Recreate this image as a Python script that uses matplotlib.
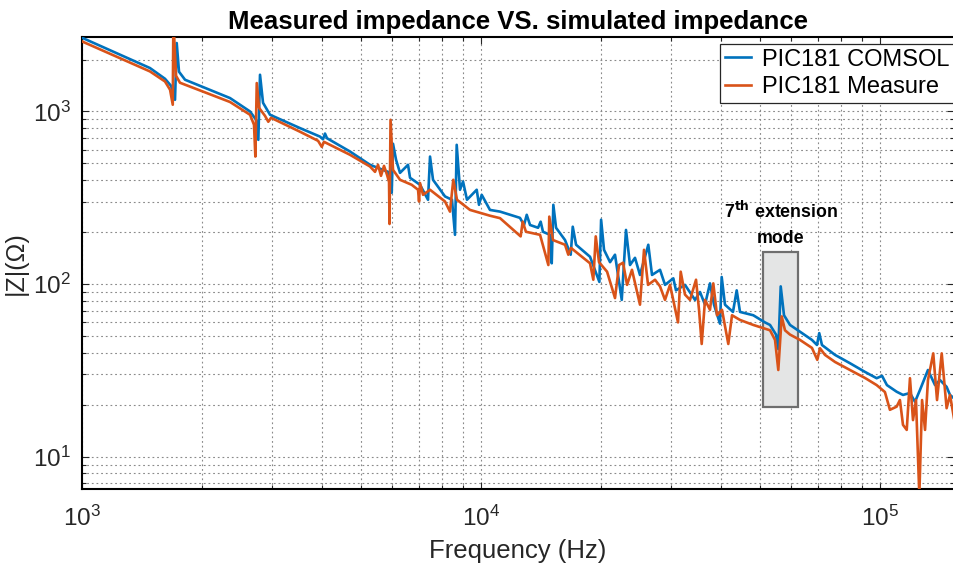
import matplotlib
matplotlib.use("Agg")
import matplotlib.pyplot as plt
from matplotlib.patches import Rectangle
from matplotlib.ticker import LogLocator, NullFormatter

plt.rcParams["font.family"] = ["Liberation Sans", "DejaVu Sans"]

# values (Hz, Ohm)
comsol_freq = [
    1000, 1480, 1614, 1671, 1710, 1727, 1750, 1812, 2349, 2637,
    2730, 2766, 2793, 2842, 2959, 3519, 3950, 4018, 4064, 4111,
    4696, 5270, 5847, 5973, 6018, 6124, 6266, 6562, 6639, 7033,
    7365, 7451, 7581, 8124, 8458, 8606, 8691, 8859, 9014, 9223,
    9755, 9885, 10040, 10530, 11160, 12520, 12820, 13020, 13270, 13900,
    14110, 14300, 14890, 15040, 15180, 15420, 16240, 16780, 16980, 17310,
    18760, 19800, 20000, 20340, 21060, 21670, 22530, 23090, 23630, 24320,
    25030, 26260, 26830, 28100, 28920, 30340, 30810, 32450, 34390, 35390,
    36430, 37490, 38370, 39720, 40110, 40880, 42810, 43740, 44580, 48130,
    51490, 53020, 54880, 55610, 56390, 57470, 59500, 63020, 67530, 69510,
    70440, 71540, 77140, 84110, 91700, 98100, 101200, 104100, 110100, 114200,
    118900, 122400, 126000, 131900, 137400, 141400, 146900, 149800, 153300,
]
comsol_z = [
    2674, 1785, 1547, 1409, 1169, 2492, 1699, 1527, 1196, 1000,
    895, 685, 1632, 1123, 957, 801, 715, 690, 745, 700,
    586, 491, 447, 338, 650, 525, 441, 491, 413, 376,
    308, 548, 402, 322, 308, 193, 641, 352, 393, 308,
    352, 288, 329, 269, 263, 242, 220, 252, 220, 212,
    230, 201, 193, 132, 288, 212, 180, 148, 215, 169,
    144, 103, 236, 158, 134, 148, 81, 206, 129, 142,
    113, 169, 113, 121, 99, 108, 92, 99, 81, 90,
    76, 101, 76, 59, 110, 76, 69, 92, 69, 66,
    60, 58, 51, 42, 97, 66, 58, 53, 47.5, 44.4,
    52, 44.4, 38.9, 34.8, 31, 28.5, 29.4, 26, 23.8, 22.8,
    23.4, 20.8, 24.4, 31.8, 26, 27.8, 25.4, 22.8, 21.8,
]

measure_freq = [
    1000, 1480, 1614, 1662, 1688, 1694, 1720, 1760, 2349, 2637,
    2698, 2719, 2741, 2777, 2874, 2930, 2977, 3519, 3905, 3989,
    4041, 4696, 5270, 5424, 5519, 5615, 5713, 5813, 5881, 5898,
    5932, 6018, 6266, 6704, 6953, 6993, 7033, 7156, 7451, 8124,
    8360, 8522, 8706, 9385, 10530, 11160, 12570, 12720, 12960, 14060,
    14750, 14830, 15150, 16240, 16550, 16810, 18760, 19120, 19390, 19760,
    20700, 21670, 22180, 22700, 23230, 23900, 25030, 25620, 26220, 27300,
    28100, 28920, 29770, 31170, 31660, 32450, 33410, 34590, 35190, 35740,
    36430, 37490, 38210, 39040, 40180, 41670, 42570, 44580, 48130, 53020,
    54570, 55610, 56710, 57800, 59500, 63020, 67530, 69640, 70720, 72800,
    77140, 84110, 91700, 98100, 102900, 105900, 110100, 112200, 114200, 116700,
    118900, 121000, 123100, 125500, 127500, 129700, 131900, 136000, 139000, 142800,
    146900, 149800, 153300,
]
measure_z = [
    2546, 1706, 1492, 1336, 1094, 3400, 1611, 1467, 1135, 957,
    837, 548, 1461, 1051, 944, 872, 919, 763, 676, 624,
    667, 561, 480, 447, 491, 424, 484, 430, 391, 223,
    895, 459, 402, 376, 352, 301, 385, 329, 352, 301,
    263, 402, 308, 269, 249, 241, 189, 230, 201, 193,
    129, 246, 180, 169, 148, 162, 132, 106, 189, 134,
    118, 83, 129, 133, 99, 121, 76, 158, 99, 106,
    97, 81, 99, 60, 118, 87, 81, 106, 71, 45,
    81, 71, 101, 66, 71, 45, 66, 62, 58, 54,
    47.5, 31.8, 65, 54, 51, 47.5, 42.7, 36.4, 42.5, 38.9,
    35.4, 31.8, 28.6, 26, 23.7, 18.7, 19.5, 21.3, 15.3, 14.3,
    28.5, 16.3, 21.3, 6.0, 21.3, 14.3, 27.8, 39.7, 21.3, 39.7,
    19.1, 22.8, 16.7,
]

series_labels = ["PIC181 COMSOL", "PIC181 Measure"]

# highlighted region around the 7th extension mode
mode_band = (50800, 62200)
mode_zrange = (19.5, 154)

fig = plt.figure(figsize=(9.54, 5.66), dpi=100)
ax = fig.add_axes([0.086, 0.136, 0.914, 0.7986])

ax.plot(comsol_freq, comsol_z, color="#0072BD", lw=1.9, label=series_labels[0], zorder=3)
ax.plot(measure_freq, measure_z, color="#D95319", lw=1.9, label=series_labels[1], zorder=3.1)

ax.set_xscale("log")
ax.set_yscale("log")
ax.set_xlim(1000, 153300)
ax.set_ylim(6.5, 2700)

ax.xaxis.set_major_locator(LogLocator(base=10, numticks=10))
ax.yaxis.set_major_locator(LogLocator(base=10, numticks=10))
ax.xaxis.set_minor_locator(LogLocator(base=10, subs=range(2, 10), numticks=20))
ax.yaxis.set_minor_locator(LogLocator(base=10, subs=range(2, 10), numticks=20))
ax.xaxis.set_minor_formatter(NullFormatter())
ax.yaxis.set_minor_formatter(NullFormatter())

ax.set_axisbelow(True)
grid_kw = dict(color="#8a8a8a", linestyle=(0, (1.6, 2.6)), linewidth=0.8)
ax.grid(True, which="major", **grid_kw)
ax.grid(True, which="minor", **grid_kw)

ax.tick_params(which="both", direction="in", top=True, right=True,
               labelsize=17.5, colors="#262626", width=0.8)
ax.tick_params(which="major", length=5)
ax.tick_params(axis="x", which="major", pad=12)
ax.tick_params(axis="y", which="major", pad=8)
ax.tick_params(which="minor", length=3)
for side in ["left", "bottom", "top"]:
    ax.spines[side].set_linewidth(1.5)
    ax.spines[side].set_color("black")
ax.spines["right"].set_visible(False)

box = Rectangle((mode_band[0], mode_zrange[0]), mode_band[1] - mode_band[0],
                mode_zrange[1] - mode_zrange[0], facecolor="#e4e5e5",
                edgecolor="#6e6e6e", lw=1.6, zorder=1.5)
ax.add_patch(box)
ax.text(56500, 164, "7$^{\\mathbf{th}}$ extension\nmode", ha="center", va="bottom",
        fontsize=12.8, fontweight="bold", linespacing=1.6, zorder=4)

ax.set_xlabel("Frequency (Hz)", fontsize=18.5, color="#262626", labelpad=6)
ax.set_ylabel("|Z|(Ω)", fontsize=18, color="#262626", labelpad=4)
ax.set_title("Measured impedance VS. simulated impedance", fontsize=18.5,
             fontweight="bold", pad=6)

leg = ax.legend(loc="upper right", bbox_to_anchor=(1.0, 0.985), fontsize=17,
                handlelength=1.1, handletextpad=0.45, labelspacing=0.25,
                borderpad=0.2, borderaxespad=0.0, fancybox=False,
                framealpha=1, edgecolor="#262626")
leg.get_frame().set_linewidth(0.9)

fig.savefig("out.png", dpi=100)
